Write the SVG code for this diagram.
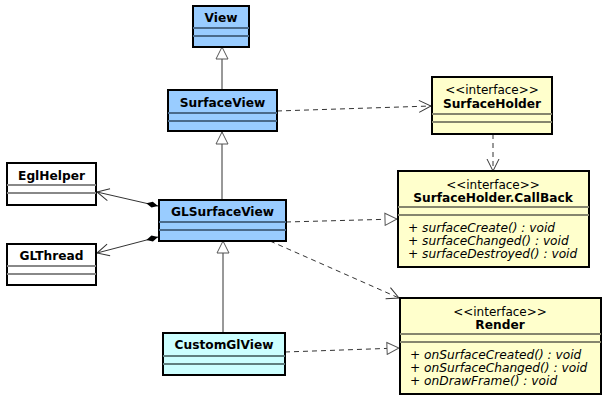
<svg xmlns="http://www.w3.org/2000/svg" width="611" height="402" viewBox="0 0 611 402">
<defs>
<style>
.box{stroke:#000;stroke-width:2}
.blue{fill:#99ccff}
.cyan{fill:#ccffff}
.yel{fill:#ffffcc}
.wht{fill:#ffffff}
.sepb{stroke:#4a6a8a;stroke-width:2}
.sepc{stroke:#5f7f7f;stroke-width:2}
.sepy{stroke:#86866e;stroke-width:2}
.sepw{stroke:#888;stroke-width:2}
.name{font-family:"DejaVu Sans",sans-serif;font-weight:bold;font-size:12.2px;text-anchor:middle;fill:#000}
.ster{font-family:"DejaVu Sans",sans-serif;font-size:12px;text-anchor:middle;fill:#000}
.meth{font-family:"DejaVu Sans",sans-serif;font-style:italic;font-size:12.2px;fill:#000}
.solid{stroke:#333;stroke-width:1;fill:none}
.dash{stroke:#333;stroke-width:1;fill:none;stroke-dasharray:5,4}
</style>
<marker id="tri" viewBox="0 0 14 14" refX="13" refY="7" markerWidth="14" markerHeight="14" markerUnits="userSpaceOnUse" orient="auto">
<path d="M1,1 L13,7 L1,13 Z" fill="#fff" stroke="#555" stroke-width="1"/>
</marker>
<marker id="open" viewBox="0 0 14 14" refX="13" refY="7" markerWidth="14" markerHeight="14" markerUnits="userSpaceOnUse" orient="auto">
<path d="M1,1 L13,7 L1,13" fill="none" stroke="#333" stroke-width="1"/>
</marker>
<marker id="dia" viewBox="0 0 14 8" refX="1" refY="4" markerWidth="14" markerHeight="8" markerUnits="userSpaceOnUse" orient="auto">
<path d="M1,4 L7,1 L13,4 L7,7 Z" fill="#000"/>
</marker>
</defs>

<g id="connectors">
<line class="solid" x1="222" y1="90" x2="222" y2="47" marker-end="url(#tri)"/>
<line class="solid" x1="222" y1="200" x2="222" y2="132" marker-end="url(#tri)"/>
<line class="solid" x1="223" y1="333" x2="223" y2="241" marker-end="url(#tri)"/>
<line class="dash" x1="277" y1="111" x2="431" y2="106" marker-end="url(#open)"/>
<line class="dash" x1="493" y1="134" x2="493" y2="171" marker-end="url(#open)"/>
<line class="dash" x1="286" y1="222" x2="397" y2="219" marker-end="url(#tri)"/>
<line class="dash" x1="270" y1="241" x2="399" y2="298" marker-end="url(#open)"/>
<line class="dash" x1="285" y1="352" x2="399" y2="348" marker-end="url(#tri)"/>
<line class="solid" x1="158" y1="206" x2="97" y2="192" marker-start="url(#dia)" marker-end="url(#open)"/>
<line class="solid" x1="158" y1="237" x2="97" y2="253" marker-start="url(#dia)" marker-end="url(#open)"/>
</g>

<g id="View">
<rect class="box blue" x="193" y="6" width="56" height="41"/>
<line class="sepb" x1="193" y1="28" x2="249" y2="28"/>
<line class="sepb" x1="193" y1="36" x2="249" y2="36"/>
<text class="name" x="221" y="22">View</text>
</g>

<g id="SurfaceView">
<rect class="box blue" x="168" y="90" width="109" height="41"/>
<line class="sepb" x1="168" y1="113" x2="277" y2="113"/>
<line class="sepb" x1="168" y1="121" x2="277" y2="121"/>
<text class="name" x="222.5" y="107">SurfaceView</text>
</g>

<g id="GLSurfaceView">
<rect class="box blue" x="159" y="200" width="127" height="41"/>
<line class="sepb" x1="159" y1="222" x2="286" y2="222"/>
<line class="sepb" x1="159" y1="230" x2="286" y2="230"/>
<text class="name" x="222.5" y="216">GLSurfaceView</text>
</g>

<g id="CustomGlView">
<rect class="box cyan" x="163" y="333" width="122" height="42"/>
<line class="sepc" x1="163" y1="356" x2="285" y2="356"/>
<line class="sepc" x1="163" y1="364" x2="285" y2="364"/>
<text class="name" x="224" y="349">CustomGlView</text>
</g>

<g id="EglHelper">
<rect class="box wht" x="7" y="163" width="89" height="42"/>
<line class="sepw" x1="7" y1="185" x2="96" y2="185"/>
<line class="sepw" x1="7" y1="193" x2="96" y2="193"/>
<text class="name" x="51.5" y="180">EglHelper</text>
</g>

<g id="GLThread">
<rect class="box wht" x="7" y="244" width="89" height="41"/>
<line class="sepw" x1="7" y1="266" x2="96" y2="266"/>
<line class="sepw" x1="7" y1="274" x2="96" y2="274"/>
<text class="name" x="51.5" y="260">GLThread</text>
</g>

<g id="SurfaceHolder">
<rect class="box yel" x="432" y="77" width="120" height="57"/>
<line class="sepy" x1="432" y1="114" x2="552" y2="114"/>
<line class="sepy" x1="432" y1="122" x2="552" y2="122"/>
<text class="ster" x="492" y="94">&lt;&lt;interface&gt;&gt;</text>
<text class="name" x="492" y="108">SurfaceHolder</text>
</g>

<g id="SurfaceHolderCallBack">
<rect class="box yel" x="398" y="171" width="191" height="96"/>
<line class="sepy" x1="398" y1="207" x2="589" y2="207"/>
<line class="sepy" x1="398" y1="215" x2="589" y2="215"/>
<text class="ster" x="493" y="189">&lt;&lt;interface&gt;&gt;</text>
<text class="name" x="493" y="202">SurfaceHolder.CallBack</text>
<text class="meth" x="408" y="232">+ surfaceCreate() : void</text>
<text class="meth" x="408" y="245">+ surfaceChanged() : void</text>
<text class="meth" x="408" y="258">+ surfaceDestroyed() : void</text>
</g>

<g id="Render">
<rect class="box yel" x="400" y="298" width="201" height="96"/>
<line class="sepy" x1="400" y1="334" x2="601" y2="334"/>
<line class="sepy" x1="400" y1="342" x2="601" y2="342"/>
<text class="ster" x="500" y="316">&lt;&lt;interface&gt;&gt;</text>
<text class="name" x="500" y="329">Render</text>
<text class="meth" x="410" y="359">+ onSurfaceCreated() : void</text>
<text class="meth" x="410" y="372">+ onSurfaceChanged() : void</text>
<text class="meth" x="410" y="385">+ onDrawFrame() : void</text>
</g>
</svg>
